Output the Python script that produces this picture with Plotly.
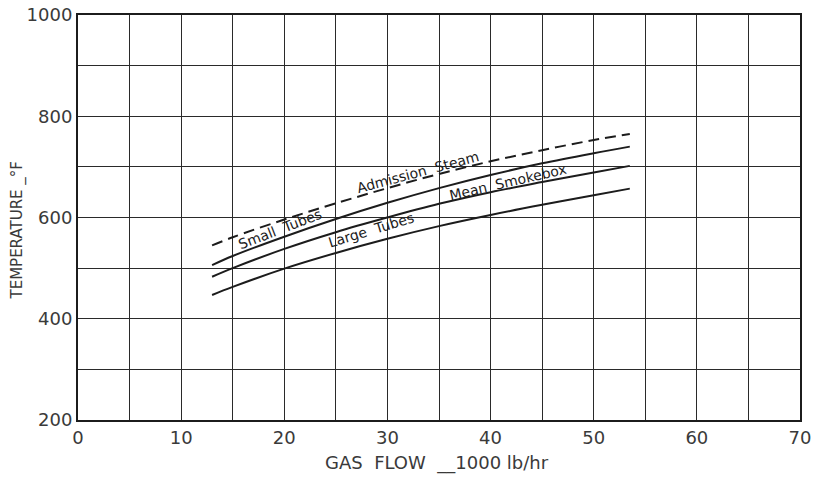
import plotly.graph_objects as go

# Data
gas_flow = [13, 15, 20, 25, 30, 35, 40, 45, 50, 53.5]
admission_steam = [545, 561, 596, 628, 658, 686, 711, 733, 753, 765]
small_tubes = [506, 524, 562, 597, 629, 658, 684, 707, 727, 740]
mean_smokebox = [483, 500, 538, 571, 600, 627, 650, 670, 689, 702]
large_tubes = [447, 463, 499, 530, 558, 583, 605, 625, 644, 657]

x_ticks = [0, 10, 20, 30, 40, 50, 60, 70]
y_ticks = [200, 400, 600, 800, 1000]

# label annotations: (text, x, y, angle)
labels = [
    ("Admission  Steam", 33.0, 690, -15),
    ("Small  Tubes", 19.6, 578, -21),
    ("Mean  Smokebox", 41.7, 671, -13),
    ("Large  Tubes", 28.4, 575, -17),
]

ink = "#1c1c1c"
text_ink = "#3a3a3a"
font_family = "DejaVu Sans, Liberation Sans, sans-serif"

fig = go.Figure()
series = [
    (admission_steam, "dash"),
    (small_tubes, "solid"),
    (mean_smokebox, "solid"),
    (large_tubes, "solid"),
]
for ys, dash in series:
    fig.add_trace(go.Scatter(
        x=gas_flow, y=ys, mode="lines", line_shape="spline",
        line=dict(color=ink, width=2, dash="11px,6px" if dash == "dash" else "solid"),
        showlegend=False, hoverinfo="skip"))

for text, x, y, ang in labels:
    fig.add_annotation(x=x, y=y, text=text, showarrow=False, textangle=ang,
                       font=dict(family=font_family, size=14, color=ink))

axis_common = dict(
    showline=True, linecolor=ink, linewidth=2, mirror=True,
    showgrid=True, gridcolor="#2a2a2a", gridwidth=1,
    ticks="", zeroline=False, automargin=False,
    tickfont=dict(family=font_family, size=18, color=text_ink),
)

fig.update_xaxes(range=[0, 70], tickvals=x_ticks, ticktext=[str(v) for v in x_ticks],
                 minor=dict(dtick=5, showgrid=True, gridcolor="#2a2a2a", gridwidth=1),
                 **axis_common)
fig.update_yaxes(range=[200, 1000], tickvals=y_ticks, ticktext=[str(v) for v in y_ticks],
                 minor=dict(dtick=100, showgrid=True, gridcolor="#2a2a2a", gridwidth=1),
                 **axis_common)

# axis titles placed as text annotations
fig.add_annotation(xref="paper", yref="paper", x=0.5, y=0, yshift=-43, xshift=-2,
                   xanchor="center", yanchor="middle",
                   text="GAS  FLOW  __1000 lb/hr", showarrow=False,
                   font=dict(family=font_family, size=18, color=text_ink))
fig.add_annotation(xref="paper", yref="paper", x=0, y=0.5, xshift=-61, yshift=-13,
                   xanchor="center", yanchor="middle",
                   text="TEMPERATURE _°F", showarrow=False, textangle=-90,
                   font=dict(family=font_family, size=15, color=text_ink))

fig.update_layout(
    width=816, height=478,
    margin=dict(l=78, r=16, t=15, b=58),
    paper_bgcolor="white", plot_bgcolor="white",
)

fig.write_html(
    "out.html",
    config={"displayModeBar": False},
    post_script="document.body.style.margin='0';document.body.style.overflow='hidden';",
)
